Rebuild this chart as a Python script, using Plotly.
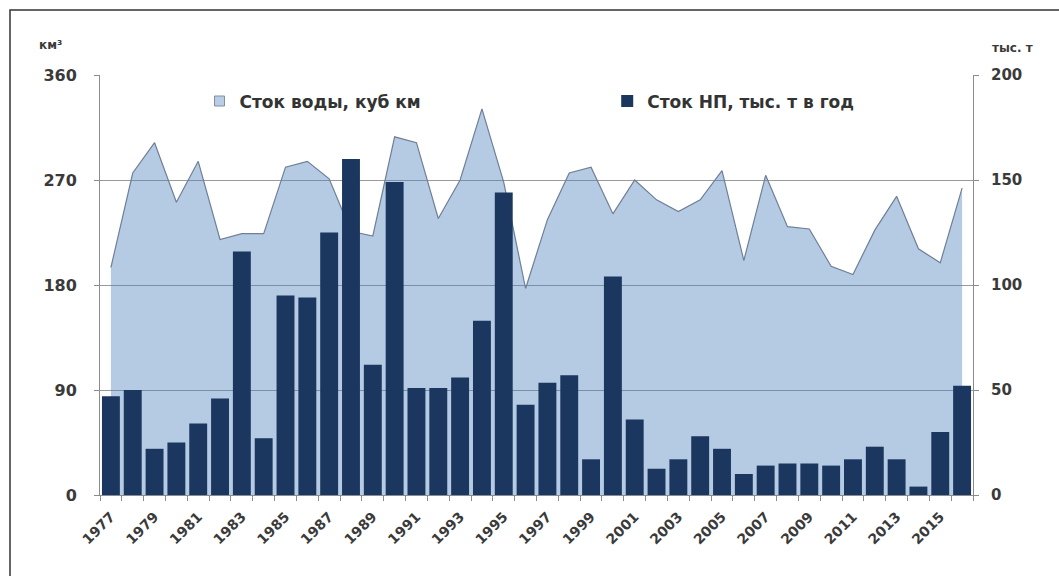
import plotly.graph_objects as go

years = list(range(1977, 2017))
water_km3 = [195, 276, 302, 251, 286, 219, 224, 224, 281, 286,
             271, 226, 222, 307, 302, 237, 270, 331, 268, 177,
             236, 276, 281, 241, 270, 253, 243, 253, 278, 201,
             274, 230, 228, 196, 189, 227, 256, 211, 199, 263]
oil_kt = [47, 50, 22, 25, 34, 46, 116, 27, 95, 94,
          125, 160, 62, 149, 51, 51, 56, 83, 144, 43,
          53.5, 57, 17, 104, 36, 12.5, 17, 28, 22, 10,
          14, 15, 15, 14, 17, 23, 17, 4, 30, 52]
tick_years = list(range(1977, 2016, 2))
left_ticks = [0, 90, 180, 270, 360]
right_ticks = [0, 50, 100, 150, 200]

name_water = "Сток воды, куб км"
name_oil = "Сток НП, тыс. т в год"

FONT = "DejaVu Sans"
TXT = "#3a3a3a"
AREA_FILL = "rgba(79,129,189,0.42)"

fig = go.Figure()
fig.add_trace(go.Scatter(
    x=years, y=water_km3, name=name_water, mode="lines",
    fill="tozeroy", fillcolor=AREA_FILL,
    line=dict(color="#6f7f96", width=1.2), yaxis="y", showlegend=False))
# legend key for the area series (square swatch, as in the original)
fig.add_trace(go.Scatter(
    x=[None], y=[None], name=name_water, mode="markers",
    marker=dict(symbol="square", size=10, color="#b9cde5", line=dict(color="#7f8fa6", width=1)),
    yaxis="y", legend="legend"))
fig.add_trace(go.Bar(
    x=years, y=oil_kt, name=name_oil, marker=dict(color="#1b365f", line=dict(width=0)),
    yaxis="y2", legend="legend2"))

legend_font = dict(size=17, family=FONT, color="#333333", weight="bold")
fig.update_layout(
    width=1059, height=576,
    margin=dict(l=100, r=86, t=75, b=81),
    paper_bgcolor="white", plot_bgcolor="white",
    bargap=0.18,
    font=dict(family=FONT, color=TXT),
    showlegend=True,
    legend=dict(x=0.114, y=0.937, xanchor="left", yanchor="middle",
                font=legend_font, bgcolor="rgba(0,0,0,0)", itemwidth=30),
    legend2=dict(x=0.581, y=0.937, xanchor="left", yanchor="middle",
                 font=legend_font, bgcolor="rgba(0,0,0,0)", itemwidth=30),
    xaxis=dict(range=[1976.5, 2016.5], tickmode="array", tickvals=tick_years,
               ticktext=[str(y) for y in tick_years], tickangle=-45,
               showgrid=False, zeroline=False, showline=True, linecolor="#8c8c8c",
               ticks="", ticklabelstandoff=7,
               tickfont=dict(size=14, family=FONT, color=TXT, weight="bold"),
               minor=dict(tickmode="array", tickvals=[y + 0.5 for y in range(1976, 2017)],
                          ticks="outside", ticklen=5, tickcolor="#8c8c8c", showgrid=False)),
    yaxis=dict(range=[0, 360], tickvals=left_ticks, showgrid=True, gridcolor="#9a9a9a",
               gridwidth=1, zeroline=False, showline=True, linecolor="#8c8c8c",
               ticks="outside", ticklen=5, tickcolor="#8c8c8c", ticklabelstandoff=14,
               tickfont=dict(size=16, family=FONT, color=TXT, weight="bold")),
    yaxis2=dict(range=[0, 200], tickvals=right_ticks, overlaying="y", side="right",
                showgrid=False, zeroline=False, showline=True, linecolor="#8c8c8c",
                ticks="outside", ticklen=5, tickcolor="#8c8c8c", ticklabelstandoff=9,
                tickfont=dict(size=15, family=FONT, color=TXT, weight="bold")),
)

fig.add_annotation(text="км³", xref="paper", yref="paper", x=(37 - 100) / 873, y=1.071,
                   xanchor="left", yanchor="middle", showarrow=False,
                   font=dict(size=12, family=FONT, color=TXT, weight="bold"))
fig.add_annotation(text="тыс. т", xref="paper", yref="paper", x=(990 - 100) / 873, y=1.064,
                   xanchor="left", yanchor="middle", showarrow=False,
                   font=dict(size=12, family=FONT, color=TXT, weight="bold"))

fig.add_shape(type="rect", xref="paper", yref="paper",
              x0=(10 - 100) / 873, x1=(1070 - 100) / 873,
              y0=(495 - 590) / 420, y1=(495 - 10) / 420,
              line=dict(color="#333333", width=1.5), fillcolor="rgba(0,0,0,0)", layer="above")

fig.write_html("out.html", config={"displayModeBar": False},
               post_script="document.body.style.margin='0px';")
